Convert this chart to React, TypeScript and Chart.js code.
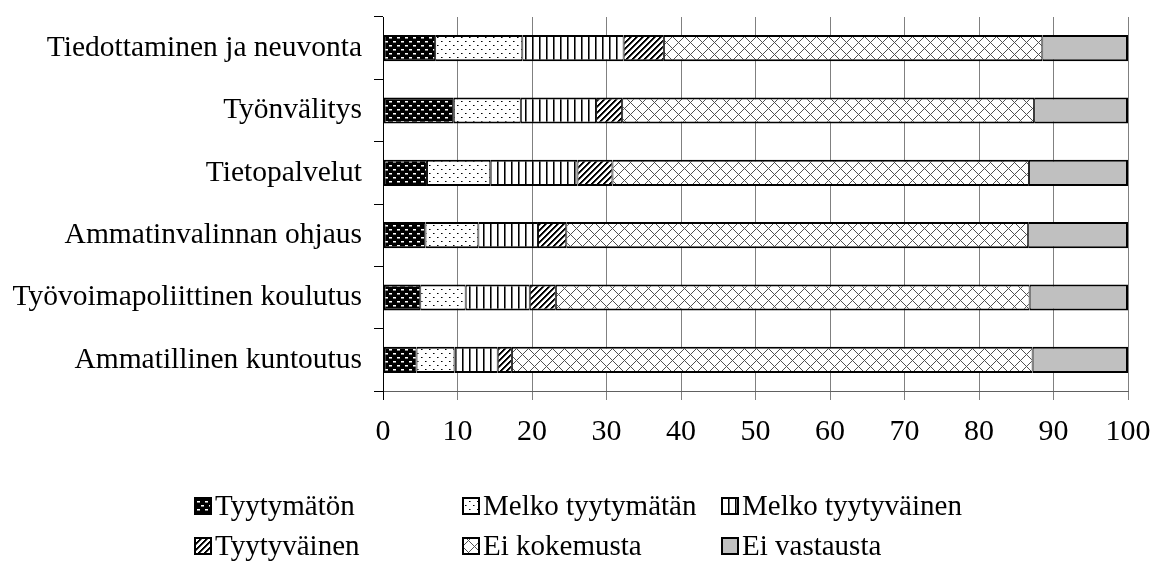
import React, { useEffect, useRef } from 'react';
import { Chart, registerables } from 'chart.js';

Chart.register(...registerables);

const categories = [
  'Tiedottaminen ja neuvonta',
  'Työnvälitys',
  'Tietopalvelut',
  'Ammatinvalinnan ohjaus',
  'Työvoimapoliittinen koulutus',
  'Ammatillinen kuntoutus',
];

const seriesNames = [
  'Tyytymätön',
  'Melko tyytymätän',
  'Melko tyytyväinen',
  'Tyytyväinen',
  'Ei kokemusta',
  'Ei vastausta',
];

const tyytymaton = [7.0, 9.5, 5.9, 5.7, 5.0, 4.5];
const melkoTyytymatan = [11.7, 9.0, 8.5, 7.1, 6.1, 5.1];
const melkoTyytyvainen = [13.6, 10.1, 11.7, 8.0, 8.6, 5.8];
const tyytyvainen = [5.4, 3.5, 4.7, 3.8, 3.5, 1.9];
const eiKokemusta = [50.8, 55.3, 55.9, 62.0, 63.6, 69.9];
const eiVastausta = [11.5, 12.6, 13.3, 13.4, 13.2, 12.8];

const seriesValues = [tyytymaton, melkoTyytymatan, melkoTyytyvainen, tyytyvainen, eiKokemusta, eiVastausta];

const xMin = 0;
const xMax = 100;
const xStep = 10;

const FONT = '"Liberation Serif", "Times New Roman", serif';

function makeTile(w: number, h: number, draw: (g: CanvasRenderingContext2D) => void) {
  const c = document.createElement('canvas');
  c.width = w;
  c.height = h;
  const g = c.getContext('2d')!;
  draw(g);
  return c;
}

function makePatterns(ctx: CanvasRenderingContext2D) {
  const dark = makeTile(8, 8, (g) => {
    g.fillStyle = '#000';
    g.fillRect(0, 0, 8, 8);
    g.fillStyle = '#fff';
    g.fillRect(1, 1, 3, 1);
    g.fillRect(5, 5, 3, 1);
    g.fillStyle = '#888';
    g.fillRect(1, 2, 3, 1);
    g.fillRect(5, 6, 3, 1);
  });
  const dots = makeTile(8, 8, (g) => {
    g.fillStyle = '#fff';
    g.fillRect(0, 0, 8, 8);
    g.fillStyle = '#000';
    g.fillRect(1, 1, 1, 1);
    g.fillRect(5, 5, 1, 1);
    g.fillStyle = '#777';
    g.fillRect(2, 1, 1, 1);
    g.fillRect(6, 5, 1, 1);
  });
  const vert = makeTile(7, 4, (g) => {
    g.fillStyle = '#fff';
    g.fillRect(0, 0, 7, 4);
    g.fillStyle = '#000';
    g.fillRect(0, 0, 1, 4);
    g.fillStyle = '#707070';
    g.fillRect(1, 0, 1, 4);
  });
  const diag = makeTile(6, 6, (g) => {
    g.fillStyle = '#fff';
    g.fillRect(0, 0, 6, 6);
    for (let x = 0; x < 6; x++) {
      for (let y = 0; y < 6; y++) {
        const m = (x + y) % 6;
        if (m < 2) {
          g.fillStyle = '#000';
          g.fillRect(x, y, 1, 1);
        } else if (m === 2) {
          g.fillStyle = '#666';
          g.fillRect(x, y, 1, 1);
        }
      }
    }
  });
  const cross = makeTile(12, 12, (g) => {
    g.fillStyle = '#fff';
    g.fillRect(0, 0, 12, 12);
    g.fillStyle = '#505050';
    for (let x = 0; x < 12; x++) {
      for (let y = 0; y < 12; y++) {
        if ((x + y) % 12 === 0 || (x - y + 12) % 12 === 0) g.fillRect(x, y, 1, 1);
      }
    }
  });
  return [
    ctx.createPattern(dark, 'repeat'),
    ctx.createPattern(dots, 'repeat'),
    ctx.createPattern(vert, 'repeat'),
    ctx.createPattern(diag, 'repeat'),
    ctx.createPattern(cross, 'repeat'),
    '#C0C0C0',
  ];
}

const legendColX = [194, 462, 721];
const legendRowTop = [497, 537];

const legendPlugin = {
  id: 'excelLegend',
  afterDraw(chart: any) {
    const ctx = chart.ctx as CanvasRenderingContext2D;
    ctx.save();
    ctx.font = `29px ${FONT}`;
    ctx.textBaseline = 'alphabetic';
    ctx.textAlign = 'left';
    chart.data.datasets.forEach((ds: any, i: number) => {
      const col = i % 3;
      const row = Math.floor(i / 3);
      const bx = legendColX[col];
      const by = legendRowTop[row];
      ctx.fillStyle = ds.backgroundColor;
      ctx.fillRect(bx, by, 18, 18);
      ctx.lineWidth = 2;
      ctx.strokeStyle = '#000';
      ctx.strokeRect(bx + 1, by + 1, 16, 16);
      ctx.fillStyle = '#000';
      ctx.fillText(ds.label, bx + 21, by + 18);
    });
    ctx.restore();
  },
};

function zeroPadding(scale: any) {
  scale.paddingTop = 0;
  scale.paddingBottom = 0;
  scale.paddingLeft = 0;
  scale.paddingRight = 0;
}

export default function App() {
  const canvasRef = useRef<HTMLCanvasElement | null>(null);

  useEffect(() => {
    document.body.style.margin = '0';
    const canvas = canvasRef.current!;
    const ctx = canvas.getContext('2d')!;
    const patterns = makePatterns(ctx);
    const n = seriesValues.length;

    const chart = new Chart(canvas, {
      type: 'bar',
      data: {
        labels: categories,
        datasets: seriesValues.map((vals, i) => ({
          label: seriesNames[i],
          data: vals,
          backgroundColor: patterns[i] as any,
          borderColor: '#000',
          borderWidth: { top: 2, bottom: 2, left: i === 0 ? 2 : 1, right: i === n - 1 ? 2 : 1 },
          borderSkipped: false,
          barPercentage: 0.42,
          categoryPercentage: 1,
        })),
      },
      options: {
        indexAxis: 'y',
        responsive: false,
        animation: false,
        devicePixelRatio: 1,
        layout: { padding: { left: 0, right: 24, top: 17, bottom: 0 } },
        plugins: {
          legend: { display: false },
          tooltip: { enabled: false },
        },
        scales: {
          x: {
            stacked: true,
            min: xMin,
            max: xMax,
            ticks: {
              stepSize: xStep,
              color: '#000',
              font: { family: FONT, size: 30 },
              padding: 14,
              maxRotation: 0,
            },
            grid: {
              color: (c: any) => (c.tick && c.tick.value === 0 ? '#000' : '#808080'),
              lineWidth: 1,
              tickLength: 9,
            },
            border: { color: '#606060', width: 1 },
            afterFit: (scale: any) => {
              scale.height = 562 - 17 - 374;
              zeroPadding(scale);
            },
          },
          y: {
            stacked: true,
            ticks: {
              color: '#000',
              font: { family: FONT, size: 29.5 },
              padding: 12,
            },
            grid: {
              offset: true,
              drawOnChartArea: false,
              color: '#000',
              tickLength: 9,
            },
            border: { color: '#000', width: 1 },
            afterFit: (scale: any) => {
              scale.width = 383;
              zeroPadding(scale);
            },
          },
        },
      },
      plugins: [legendPlugin],
    } as any);

    return () => chart.destroy();
  }, []);

  return (
    <div style={{ width: 1152, height: 562 }}>
      <canvas ref={canvasRef} width={1152} height={562} style={{ display: 'block' }} />
    </div>
  );
}
